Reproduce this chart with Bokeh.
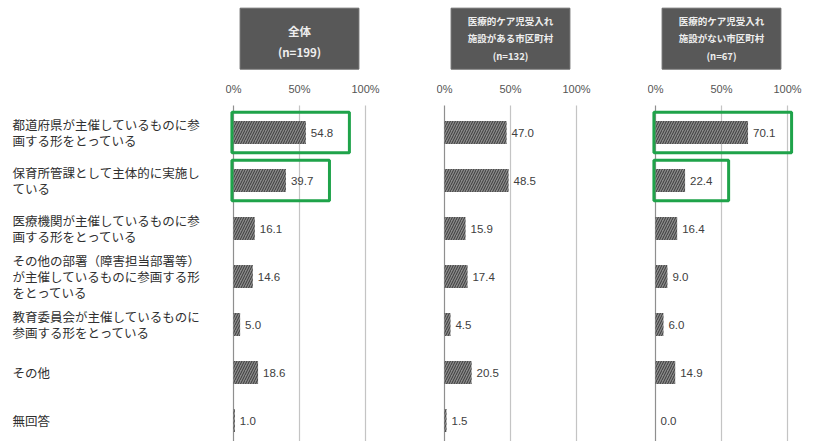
from bokeh.plotting import figure
from bokeh.layouts import row
from bokeh.models import Range1d, ColumnDataSource
from bokeh.core.properties import value
from bokeh.embed import file_html
from bokeh.resources import INLINE

categories = [
    "都道府県が主催しているものに参\n画する形をとっている",
    "保育所管課として主体的に実施し\nている",
    "医療機関が主催しているものに参\n画する形をとっている",
    "その他の部署（障害担当部署等）\nが主催しているものに参画する形\nをとっている",
    "教育委員会が主催しているものに\n参画する形をとっている",
    "その他",
    "無回答",
]
total_vals = [54.8, 39.7, 16.1, 14.6, 5.0, 18.6, 1.0]
with_vals = [47.0, 48.5, 15.9, 17.4, 4.5, 20.5, 1.5]
without_vals = [70.1, 22.4, 16.4, 9.0, 6.0, 14.9, 0.0]
total_hl = [True, True, False, False, False, False, False]
with_hl = [False] * 7
without_hl = [True, True, False, False, False, False, False]
headers = [
    ["全体", "(n=199)"],
    ["医療的ケア児受入れ", "施設がある市区町村", "(n=132)"],
    ["医療的ケア児受入れ", "施設がない市区町村", "(n=67)"],
]
ticks = [0, 50, 100]
tick_labels = ["0%", "50%", "100%"]

JP = value("Noto Sans CJK JP")
H = 441
Y_RANGE = (6.4375, -2.75)  # inverted: row 0 at top
PX = 1.32  # px per percent


def base_fig(width, x0, x1):
    p = figure(width=width, height=H, output_backend="svg", toolbar_location=None,
               x_range=Range1d(x0, x1), y_range=Range1d(*Y_RANGE),
               min_border=0, x_axis_location=None, y_axis_location=None,
               outline_line_color=None, background_fill_color="white",
               border_fill_color="white")
    p.xgrid.visible = False
    p.ygrid.visible = False
    return p


# label figure
lab = base_fig(225, 0, 225)
lab.text(x=[12] * len(categories), y=list(range(len(categories))), text=categories,
         text_font=JP, text_font_size="12.5px", text_color="#303030",
         text_baseline="middle", text_align="left", text_line_height=0.85)


def panel(width, vals, hl, header):
    x0 = -8 / PX
    p = base_fig(width, x0, x0 + width / PX)
    n = len(vals)
    ys = list(range(n))
    # grid lines
    p.segment(x0=ticks, x1=ticks, y0=[-0.56] * 3, y1=[Y_RANGE[0]] * 3,
              line_color=["#8f8f8f", "#c4c4c4", "#c4c4c4"], line_width=1.2)
    # tick labels
    p.text(x=ticks, y=[-0.9] * 3, text=tick_labels, text_font=value("Liberation Sans"),
           text_font_size="11px", text_color="#555555", text_align="center",
           text_baseline="middle")
    # header box
    p.rect(x=[50], y=[-1.955], width=90, height=1.27, fill_color="#585858",
           line_color="#6a6a6a")
    if len(header) == 2:
        hy = [-2.125, -1.667]
        size = "11.5px"
    else:
        hy = [-2.33, -1.97, -1.60]
        size = "9.5px"
    p.text(x=[50] * len(header), y=hy, text=header, text_font=JP,
           text_font_size=size, text_color="#eeeeee", text_align="center",
           text_baseline="middle", text_font_style="bold")
    src = ColumnDataSource(dict(y=ys, v=vals, lbl=[f"{v:.1f}" for v in vals]))
    p.hbar(y="y", left=0, right="v", height=0.48, source=src,
           fill_color="#8a8a8a", line_color=None,
           hatch_pattern="/", hatch_color="#3a3a3a", hatch_scale=5, hatch_weight=1)
    p.text(x="v", y="y", text="lbl", source=src, x_offset=5,
           text_font=value("Liberation Sans"), text_font_size="11.5px",
           text_color="#404040", text_baseline="middle", text_align="left")
    # highlight boxes
    hy_ = [y for y, h in zip(ys, hl) if h]
    hv = [v for v, h in zip(vals, hl) if h]
    if hy_:
        p.quad(left=[-1.2] * len(hy_), right=[v + 33 for v in hv],
               top=[y - 0.42 for y in hy_], bottom=[y + 0.42 for y in hy_],
               fill_color=None, line_color="#1fa34a", line_width=3)
    return p


p1 = panel(211, total_vals, total_hl, headers[0])
p2 = panel(211, with_vals, with_hl, headers[1])
p3 = panel(170, without_vals, without_hl, headers[2])

layout = row(lab, p1, p2, p3, spacing=0)
open("out.html", "w").write(file_html(layout, INLINE))
